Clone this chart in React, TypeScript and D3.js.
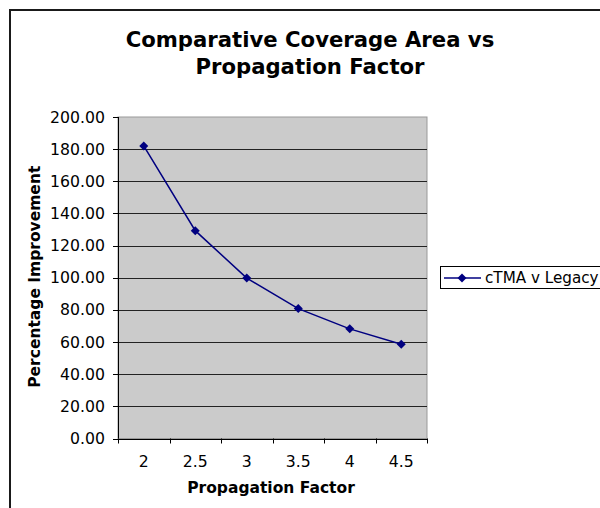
import React from "react";
import * as d3 from "d3";

const categories = ["2", "2.5", "3", "3.5", "4", "4.5"];
const seriesValues = [182.0, 129.3, 99.8, 80.8, 68.2, 58.6];
const yTicks = [0, 20, 40, 60, 80, 100, 120, 140, 160, 180, 200];
const titleLines = ["Comparative Coverage Area vs", "Propagation Factor"];
const seriesName = "cTMA v Legacy";
const xTitle = "Propagation Factor";
const yTitle = "Percentage Improvement";

export default function App() {
  const W = 600, H = 508;
  const left = 118, right = 427, top = 117, bottom = 438.5;
  const x = d3.scaleBand<string>().domain(categories).range([left, right]);
  const y = d3.scaleLinear().domain([0, 200]).range([bottom, top]);
  const line = d3.line<number>()
    .x((_, i) => x(categories[i])! + x.bandwidth() / 2)
    .y((d) => y(d));
  const diamond = (cx: number, cy: number, r: number) =>
    `M${cx},${cy - r}L${cx + r},${cy}L${cx},${cy + r}L${cx - r},${cy}Z`;
  const font = "'DejaVu Sans', Verdana, sans-serif";
  const xTickPos = [...categories.map((c) => x(c)!), right];
  return (
    <svg width={W} height={H} style={{ position: "absolute", left: 0, top: 0 }} fontFamily={font}>
      <rect x={0} y={0} width={W} height={H} fill="#fff" />
      <rect x={10} y={10} width={W + 10} height={H + 10} fill="none" stroke="#1a1a1a" strokeWidth={2} />
      {titleLines.map((t, i) => (
        <text key={i} x={310} y={46.5 + i * 27} textAnchor="middle" fontWeight="bold" fontSize={21.2}>{t}</text>
      ))}
      <rect x={left} y={top} width={right - left} height={bottom - top} fill="#cbcbcb" stroke="#999" strokeWidth={1} />
      {yTicks.map((t) => (
        <g key={t}>
          {t > 0 && t < 200 && <line x1={left} x2={right} y1={Math.round(y(t)) + 0.5} y2={Math.round(y(t)) + 0.5} stroke="#222" />}
          <line x1={left - 5} x2={left} y1={Math.round(y(t)) + 0.5} y2={Math.round(y(t)) + 0.5} stroke="#000" />
          <text x={105} y={y(t) + 5.5} textAnchor="end" fontSize={15.7}>{t.toFixed(2)}</text>
        </g>
      ))}
      <line x1={left + 0.5} x2={left + 0.5} y1={top} y2={bottom} stroke="#000" />
      <line x1={left} x2={right} y1={Math.round(bottom) + 0.5} y2={Math.round(bottom) + 0.5} stroke="#000" />
      {xTickPos.map((p, i) => (
        <line key={i} x1={Math.round(p) + 0.5} x2={Math.round(p) + 0.5} y1={bottom} y2={bottom + 5} stroke="#000" />
      ))}
      {categories.map((c) => (
        <text key={c} x={x(c)! + x.bandwidth() / 2} y={467} textAnchor="middle" fontSize={15.7}>{c}</text>
      ))}
      <text x={271} y={493} textAnchor="middle" fontWeight="bold" fontSize={15.5}>{xTitle}</text>
      <text transform={`translate(40,${(top + bottom) / 2 - 1}) rotate(-90)`} textAnchor="middle" fontWeight="bold" fontSize={15.5}>{yTitle}</text>
      <path d={line(seriesValues)!} fill="none" stroke="#000080" strokeWidth={1.5} />
      {seriesValues.map((v, i) => (
        <path key={i} d={diamond(x(categories[i])! + x.bandwidth() / 2, y(v), 4.5)} fill="#000080" />
      ))}
      <rect x={440.5} y={266.5} width={170} height={22} fill="#fff" stroke="#000" />
      <line x1={444} x2={481} y1={278} y2={278} stroke="#000080" strokeWidth={1.5} />
      <path d={diamond(462, 278, 4.5)} fill="#000080" />
      <text x={485} y={283} fontSize={15.2}>{seriesName}</text>
    </svg>
  );
}
